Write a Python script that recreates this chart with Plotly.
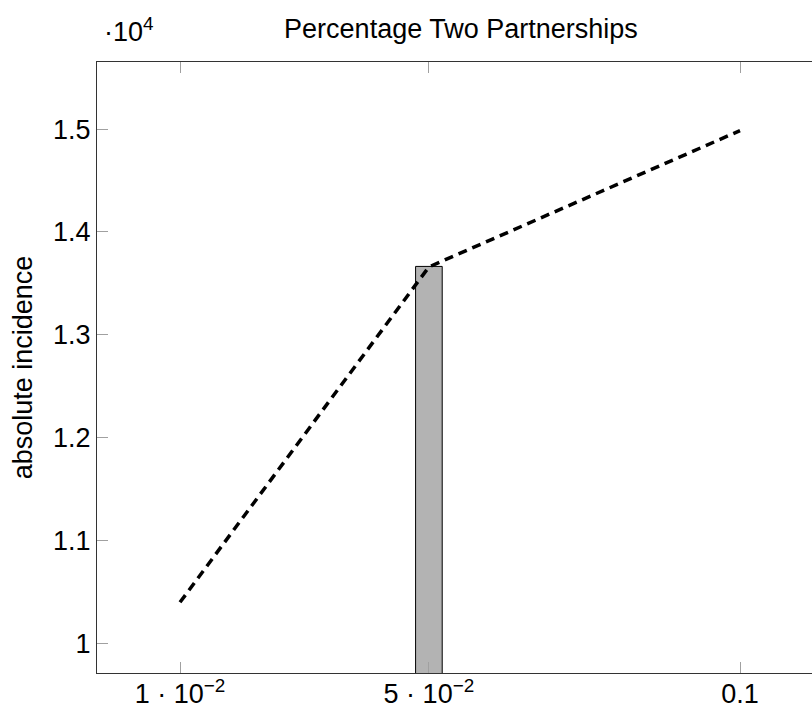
import plotly.graph_objects as go

# Share of people with two concurrent partnerships vs. absolute incidence
share = [0.01, 0.05, 0.1]
incidence = [10400, 13660, 14985]

# Highlighted configuration
bar_share = [0.05]
bar_incidence = [13665]

x_tickvals = [0.01, 0.05, 0.1]
x_ticktext = ["1 \u00b7 10<sup>\u22122</sup>", "5 \u00b7 10<sup>\u22122</sup>", "0.1"]
y_tickvals = [10000, 11000, 12000, 13000, 14000, 15000]
y_ticktext = ["1", "1.1", "1.2", "1.3", "1.4", "1.5"]

FONT = "Liberation Sans, Arial, Helvetica, sans-serif"
FS = 27

fig = go.Figure()
fig.add_trace(go.Bar(
    x=bar_share, y=bar_incidence, width=0.00428,
    marker=dict(color="#b3b3b3", line=dict(color="black", width=1)),
    showlegend=False,
))
fig.add_trace(go.Scatter(
    x=share, y=incidence, mode="lines",
    line=dict(color="black", width=3.5, dash="9px,6px"),
    showlegend=False,
))

axis_common = dict(
    showline=True, linecolor="#333333", linewidth=1,
    ticks="inside", ticklen=11, tickcolor="#a0a0a0", tickwidth=1,
    showgrid=False, zeroline=False, automargin=False,
    tickfont=dict(family=FONT, size=FS, color="black"),
)

fig.update_layout(
    width=812, height=709,
    margin=dict(l=97, r=0, t=62, b=36),
    plot_bgcolor="white", paper_bgcolor="white",
    font=dict(family=FONT, color="black", size=FS),
    xaxis=dict(
        range=[-0.00334, 0.11157], tickmode="array",
        tickvals=x_tickvals, ticktext=x_ticktext, mirror="allticks",
        ticklabelstandoff=-3,
        **axis_common,
    ),
    yaxis=dict(
        range=[9713, 15652], tickmode="array",
        tickvals=y_tickvals, ticktext=y_ticktext,
        title=dict(text="absolute incidence", font=dict(family=FONT, size=FS), standoff=12),
        **axis_common,
    ),
    title=dict(text="Percentage Two Partnerships", x=0.509, xref="paper",
               xanchor="center", y=0.96, yref="container", yanchor="middle",
               font=dict(family=FONT, size=FS, color="black")),
    annotations=[dict(
        text="\u00b710<sup>4</sup>", xref="paper", yref="paper",
        x=0.045, y=1.021, xanchor="center", yanchor="bottom", showarrow=False,
        font=dict(family=FONT, size=FS, color="black"),
    )],
)

fig.write_html("out.html")
